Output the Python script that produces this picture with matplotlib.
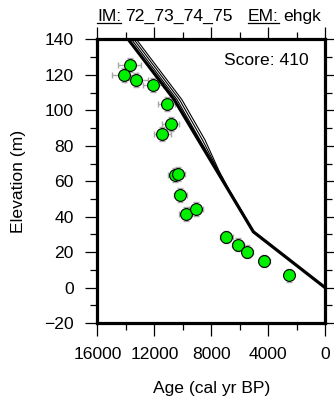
import matplotlib
matplotlib.use("Agg")
import matplotlib.pyplot as plt
from matplotlib.lines import Line2D
from matplotlib.ticker import MultipleLocator

plt.rcParams['font.family'] = ['Liberation Sans', 'DejaVu Sans']

# Observed sea-level index points
ages = [13734, 14114, 13270, 12117, 11132, 10850, 11442, 10549, 10316, 10176, 9796, 9050, 6941, 6118, 5464, 4268, 2532]
elev = [125.4, 120.1, 117.0, 114.1, 103.4, 92.1, 86.7, 63.5, 64.0, 52.4, 41.7, 44.2, 28.4, 24.2, 20.3, 15.0, 6.9]
age_err = [800, 900, 800, 700, 600, 600, 600, 500, 500, 450, 450, 500, 450, 400, 400, 400, 350]
elev_err = [4, 4, 4, 4, 4, 4, 4, 4, 4, 4, 4, 4, 3.5, 3.5, 3.5, 3.5, 3.5]

# Best model curve (thick)
model_age = [13830, 10600, 8910, 6800, 5042, 0]
model_elev = [140, 106, 83.3, 55.1, 31.5, 0]

# Alternative model curves (thin)
alt_elev = [140, 106, 83.3, 66.0, 55.1, 31.5, 0]
alt1_age = [13600, 10400, 8790, 7560, 6780, 5030, 0]
alt2_age = [13430, 10230, 8620, 7510, 6760, 5020, 0]
alt3_age = [13260, 10060, 8440, 7460, 6740, 5010, 0]

x_ticks = [16000, 12000, 8000, 4000, 0]
y_ticks = [-20, 0, 20, 40, 60, 80, 100, 120, 140]

FS = 12.6

fig = plt.figure(figsize=(3.34, 4.03), dpi=100)
ax = fig.add_axes([0.2919, 0.1985, 0.6812, 0.7035])

for a in (alt1_age, alt2_age, alt3_age):
    ax.plot(a, alt_elev, color='black', lw=0.8, zorder=2)
ax.plot(model_age, model_elev, color='black', lw=2.3, zorder=3)

ax.errorbar(ages, elev, xerr=age_err, yerr=elev_err, fmt='none',
            ecolor='#a8a8a8', elinewidth=1.0, capsize=2.5, capthick=1.0, zorder=1)
ax.plot(ages, elev, 'o', ms=8.5, mfc='#00f000', mec='black', mew=0.8, zorder=4)

ax.set_xlim(16000, 0)
ax.set_ylim(-20, 140)
ax.set_xticks(x_ticks)
ax.set_yticks(y_ticks)
ax.xaxis.set_minor_locator(MultipleLocator(2000))
ax.yaxis.set_minor_locator(MultipleLocator(10))
ax.tick_params(which='major', direction='out', length=9, width=0.9, labelsize=FS, pad=8,
               top=True, right=True, labeltop=False, labelright=False)
ax.tick_params(which='minor', direction='out', length=4.8, width=0.9,
               top=True, right=True)
for s in ax.spines.values():
    s.set_linewidth(2.3)

ax.set_xlabel('Age (cal yr BP)', fontsize=FS, labelpad=14)
ax.set_ylabel('Elevation (m)', fontsize=FS, labelpad=13)

ax.text(0.93, 0.925, 'Score: 410', transform=ax.transAxes, ha='right', va='center', fontsize=FS)

# Title with underlined labels
W = fig.bbox.width
y_t = 1 - 21 / 403
r = fig.canvas.get_renderer()
t1 = fig.text(97 / W, y_t, 'IM:', fontsize=FS, ha='left', va='baseline')
bb1 = t1.get_window_extent(r)
t2 = fig.text((bb1.x1 + 4) / W, y_t, '72_73_74_75', fontsize=FS, ha='left', va='baseline')
t3 = fig.text(248 / W, y_t, 'EM:', fontsize=FS, ha='left', va='baseline')
bb3 = t3.get_window_extent(r)
t4 = fig.text((bb3.x1 + 4) / W, y_t, 'ehgk', fontsize=FS, ha='left', va='baseline')

for bb in (bb1, bb3):
    yy = y_t - 2.0 / 403
    fig.add_artist(Line2D([bb.x0 / W, bb.x1 / W], [yy, yy], transform=fig.transFigure,
                          color='black', lw=0.9))

fig.savefig('out.png', dpi=100)
